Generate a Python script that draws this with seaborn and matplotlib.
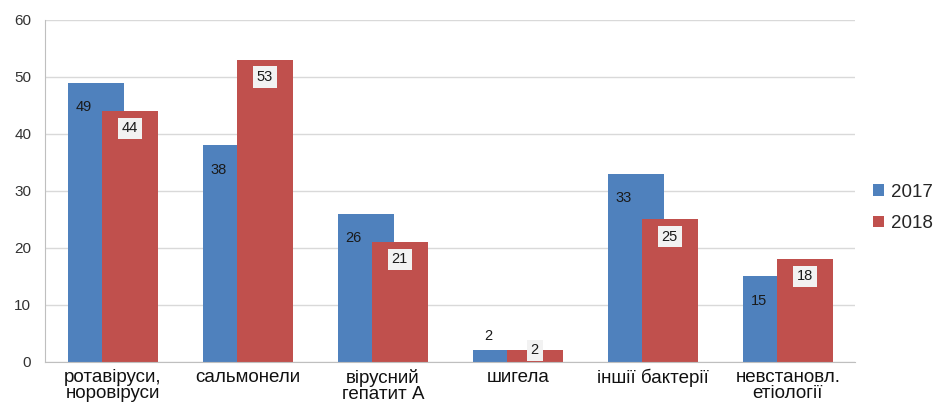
import numpy as np
import pandas as pd
import matplotlib
matplotlib.use('Agg')
import matplotlib.pyplot as plt
import seaborn as sns

# data
categories = ['ротавіруси,\nноровіруси', 'сальмонели', 'вірусний\nгепатит А',
              'шигела', 'іншії бактерії', 'невстановл.\nетіології']
vals_2017 = [49, 38, 26, 2, 33, 15]
vals_2018 = [44, 53, 21, 2, 25, 18]
years = ['2017', '2018']
colors = {'2017': '#4F81BD', '2018': '#C0504D'}

df = pd.DataFrame({
    'category': categories * 2,
    'year': ['2017'] * len(categories) + ['2018'] * len(categories),
    'value': vals_2017 + vals_2018,
})

sns.set_style('white')
plt.rcParams['font.family'] = ['Liberation Sans', 'DejaVu Sans']

fig = plt.figure(figsize=(9.42, 4.08), dpi=100)
ax = fig.add_axes([0.048, 0.113, 0.86, 0.838])

# overlapping bars: negative gap widens each dodged bar past its slot
sns.barplot(data=df, x='category', y='value', hue='year', hue_order=years,
            palette=colors, width=0.504, gap=-0.65, dodge=True,
            saturation=1, linewidth=0, ax=ax, legend=True)

ax.set_ylim(0, 60)
ax.set_xlim(-0.5, len(categories) - 0.5)
ax.set_yticks(range(0, 61, 10))
ax.yaxis.grid(True, color='#D9D9D9', linewidth=1)
ax.set_axisbelow(True)
for s in ['top', 'right']:
    ax.spines[s].set_visible(False)
ax.spines['left'].set_color('#BFBFBF')
ax.spines['bottom'].set_color('#BFBFBF')
ax.set_xlabel('')
ax.set_ylabel('')
ax.tick_params(axis='x', length=0, labelsize=13.5, colors='#111111', pad=5)
ax.tick_params(axis='y', length=0, labelsize=11, colors='#333333', pad=10)
for t in ax.get_xticklabels():
    t.set_linespacing(0.95)

# value labels
off = 0.126
for i, (a, b) in enumerate(zip(vals_2017, vals_2018)):
    ya = a - 4.3 if a > 5 else a + 2.5
    ax.text(i - off - 0.09, ya, str(a), ha='center', va='center',
            fontsize=10.5, color='#1a1a1a')
    yb = b - 3.0 if b > 5 else b
    ax.text(i + off, yb, str(b), ha='center', va='center', fontsize=10.5,
            color='#1a1a1a',
            bbox=dict(boxstyle='square,pad=0.25', fc='#F2F2F2', ec='none'))

leg = ax.legend(loc='center left', bbox_to_anchor=(1.012, 0.45), frameon=False,
                fontsize=13.5, handlelength=0.6, handleheight=0.6,
                handletextpad=0.4, labelspacing=0.75, borderaxespad=0)

fig.savefig('out.png', dpi=100)
